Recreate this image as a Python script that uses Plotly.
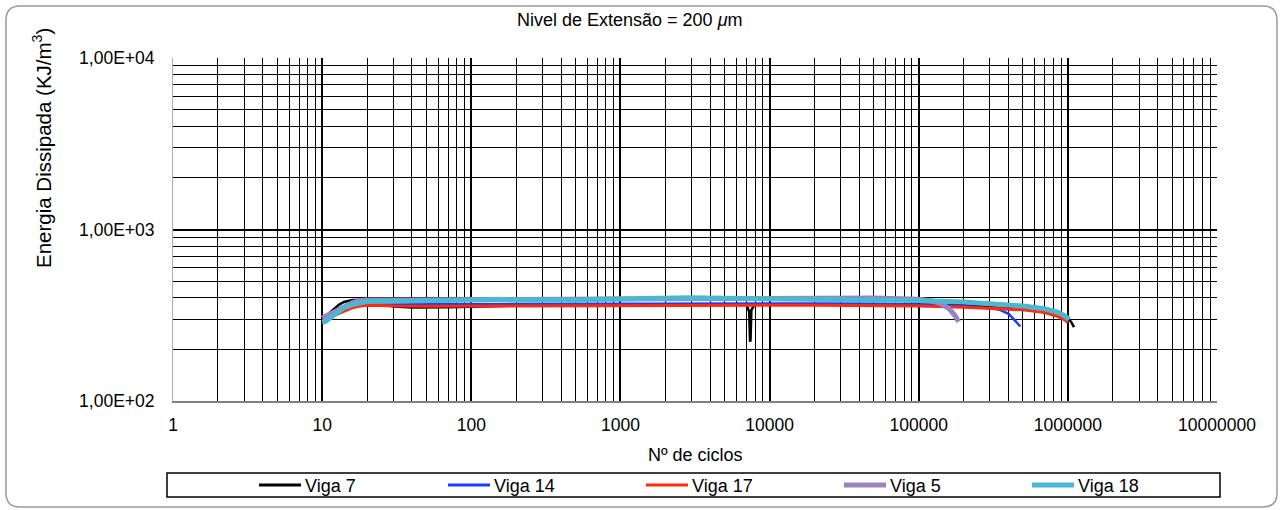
import plotly.graph_objects as go

# ---- data: energy dissipated per cycle count (log-log) ----
viga7_n = [10, 11, 12, 13, 14, 15, 16, 18, 20, 25, 30, 40, 50, 70, 100, 150, 200, 300,
           500, 700, 1000, 2000, 3000, 5000, 7000, 7300, 7400, 7450, 7550, 8000, 10000,
           20000, 50000, 100000, 200000, 400000, 600000, 800000, 950000, 1050000, 1100000]
viga7_e = [300, 322, 345, 365, 378, 385, 388, 389, 386, 370, 356, 351, 350, 352, 355, 358,
           361, 363, 364, 365, 366, 366, 367, 366, 366, 330, 222, 225, 340, 366, 367,
           367, 366, 365, 362, 355, 347, 335, 315, 290, 270]

viga14_n = [10, 11, 12, 14, 16, 18, 20, 30, 50, 100, 200, 500, 1000, 2000, 5000, 10000,
            20000, 50000, 100000, 150000, 200000, 250000, 300000, 350000, 400000, 430000,
            460000, 480000]
viga14_e = [292, 305, 320, 345, 360, 366, 368, 367, 366, 367, 368, 369, 370, 370, 369, 370,
            370, 369, 366, 362, 358, 353, 348, 340, 322, 302, 282, 272]

viga17_n = [10, 11, 12, 14, 16, 18, 20, 25, 30, 50, 100, 200, 500, 1000, 2000, 5000, 10000,
            20000, 50000, 100000, 200000, 300000, 500000, 700000, 850000, 950000, 1000000]
viga17_e = [290, 300, 315, 335, 350, 358, 362, 360, 358, 357, 358, 359, 360, 361, 362, 362,
            362, 362, 361, 358, 352, 348, 340, 328, 312, 297, 287]

viga5_n = [10, 11, 12, 13, 14, 16, 18, 20, 30, 50, 100, 200, 500, 1000, 2000, 5000, 10000,
           20000, 50000, 100000, 120000, 140000, 160000, 175000, 185000]
viga5_e = [305, 318, 332, 345, 358, 375, 385, 388, 388, 388, 389, 390, 392, 393, 395, 396,
           398, 400, 398, 392, 385, 370, 345, 315, 290]

viga18_n = [10, 10.5, 11, 12, 13, 14, 16, 18, 20, 30, 50, 100, 120, 150, 200, 300, 500, 700,
            1000, 1500, 2000, 3000, 5000, 10000, 20000, 50000, 100000, 200000, 300000,
            500000, 700000, 850000, 950000, 1020000]
viga18_e = [288, 290, 300, 318, 335, 350, 365, 375, 380, 382, 383, 385, 390, 392, 388, 390,
            387, 392, 395, 400, 398, 400, 397, 395, 393, 390, 385, 378, 370, 358, 345, 330,
            315, 298]

series = [
    ("Viga 7", viga7_n, viga7_e, "#000000", 2.5, 3),
    ("Viga 14", viga14_n, viga14_e, "#1a3cff", 2.5, 3),
    ("Viga 17", viga17_n, viga17_e, "#ff2a10", 3, 3),
    ("Viga 5", viga5_n, viga5_e, "#9b83c1", 5, 5),
    ("Viga 18", viga18_n, viga18_e, "#4db7cf", 5, 5),
]

x_tickvals = [1, 10, 100, 1000, 10000, 100000, 1000000, 10000000]
x_ticktext = ["1", "10", "100", "1000", "10000", "100000", "1000000", "10000000"]
y_tickvals = [100, 1000, 10000]
y_ticktext = ["1,00E+02", "1,00E+03", "1,00E+04"]

W, H = 1283, 510
ML, MR, MT, MB = 173, 66, 58, 109
PW, PH = W - ML - MR, H - MT - MB


def px(x):
    return (x - ML) / PW


def py(y):
    return (H - MB - y) / PH


FONT = "Liberation Sans, Arial, Helvetica, sans-serif"

fig = go.Figure()
for name, n, e, color, width, _ in series:
    fig.add_trace(go.Scatter(x=n, y=e, mode="lines", name=name,
                             line=dict(color=color, width=width), showlegend=False))

# rounded outer frame
l, r, t, b, rad = 6, 1277, 6, 507, 14
frame = (f"M {px(l + rad)},{py(t)} L {px(r - rad)},{py(t)} "
         f"Q {px(r)},{py(t)} {px(r)},{py(t + rad)} L {px(r)},{py(b - rad)} "
         f"Q {px(r)},{py(b)} {px(r - rad)},{py(b)} L {px(l + rad)},{py(b)} "
         f"Q {px(l)},{py(b)} {px(l)},{py(b - rad)} L {px(l)},{py(t + rad)} "
         f"Q {px(l)},{py(t)} {px(l + rad)},{py(t)} Z")
shapes = [
    dict(type="path", xref="paper", yref="paper", path=frame,
         line=dict(color="#9a9a9a", width=1.5), layer="below"),
    dict(type="rect", xref="paper", yref="paper",
         x0=px(167), x1=px(1220), y0=py(497), y1=py(473),
         line=dict(color="black", width=1.5)),
]

annotations = [
    dict(text="Nivel de Extensão = 200 <i>μ</i>m", xref="paper", yref="paper",
         x=px(630), y=py(20), showarrow=False, font=dict(size=18, color="black", family=FONT),
         xanchor="center", yanchor="middle"),
    dict(text="Energia Dissipada (KJ/m<sup>3</sup>)", xref="paper", yref="paper",
         x=px(42), y=py(148), showarrow=False, textangle=-90,
         font=dict(size=20.5, color="black", family=FONT), xanchor="center", yanchor="middle"),
    dict(text="Nº de ciclos", xref="paper", yref="paper",
         x=px(695), y=py(455), showarrow=False,
         font=dict(size=18, color="black", family=FONT), xanchor="center", yanchor="middle"),
]

# legend row inside the bottom box: short line sample followed by the series name
legend_x = [259, 448, 646, 844, 1032]
for (name, _, _, color, _, lw), lx in zip(series, legend_x):
    shapes.append(dict(type="line", xref="paper", yref="paper",
                       x0=px(lx), x1=px(lx + 42), y0=py(485), y1=py(485),
                       line=dict(color=color, width=lw)))
    annotations.append(dict(text=name, xref="paper", yref="paper",
                            x=px(lx + 44), y=py(486), showarrow=False,
                            xanchor="left", yanchor="middle",
                            font=dict(size=18, color="black", family=FONT)))

fig.update_layout(
    width=W, height=H,
    margin=dict(l=ML, r=MR, t=MT, b=MB, autoexpand=False),
    paper_bgcolor="white", plot_bgcolor="white",
    font=dict(family=FONT, size=17, color="black"),
    shapes=shapes, annotations=annotations,
    showlegend=False,
    xaxis=dict(type="log", range=[0, 7], tickvals=x_tickvals, ticktext=x_ticktext,
               showgrid=True, gridcolor="black", gridwidth=2,
               minor=dict(dtick="D1", showgrid=True, gridcolor="black", gridwidth=1, ticks=""),
               showline=True, linecolor="#808080", linewidth=2, ticks="",
               ticklabelstandoff=7, zeroline=False, tickfont=dict(size=17.5)),
    yaxis=dict(type="log", range=[2, 4], tickvals=y_tickvals, ticktext=y_ticktext,
               showgrid=True, gridcolor="black", gridwidth=2,
               minor=dict(dtick="D1", showgrid=True, gridcolor="black", gridwidth=1, ticks=""),
               showline=True, linecolor="#b0b0b0", linewidth=1, ticks="",
               ticklabelstandoff=14, zeroline=False, tickfont=dict(size=17.5)),
)

fig.write_html("out.html")
